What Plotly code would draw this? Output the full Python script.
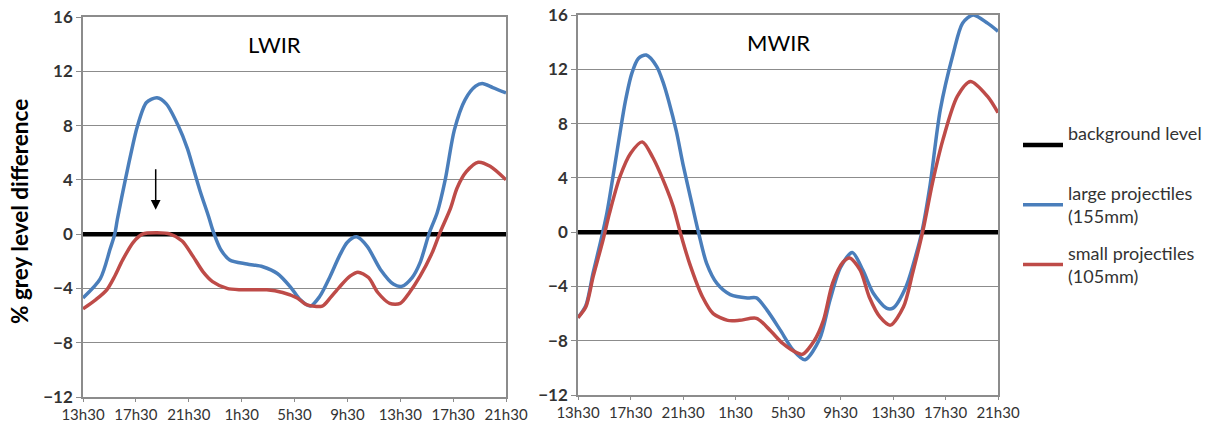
import plotly.graph_objects as go

# ---- data (hours after 13h30) ----
tick_hours = [0, 4, 8, 12, 16, 20, 24, 28, 32]
tick_labels = ["13h30", "17h30", "21h30", "1h30", "5h30", "9h30", "13h30", "17h30", "21h30"]

bg_t = [0, 32]
bg_v = [0, 0]

lwir_large_t = [0, 1.3, 2.05, 2.4, 2.6, 3.2, 3.8, 4.1, 4.8, 5.6, 6.3, 7.2, 7.9, 8.3, 8.85, 9.5, 9.85,
                10.4, 11.1, 12.4, 13.6, 14.7, 15.7, 16.4, 17.2, 17.9, 18.7, 19.4, 20.0, 20.7, 21.5,
                22.5, 23.5, 24.1, 24.9, 25.5, 26.2, 26.8, 27.4, 28.1, 28.9, 29.7, 30.2, 31.0, 32.0]
lwir_large_v = [-4.7, -3.3, -1.1, 0.0, 1.1, 4.0, 6.7, 7.9, 9.7, 10.05, 9.6, 8.0, 6.3, 5.0, 3.2, 1.3, 0.2,
                -1.1, -1.9, -2.2, -2.4, -2.9, -3.9, -4.8, -5.3, -4.6, -3.1, -1.6, -0.6, -0.2, -0.9,
                -2.6, -3.7, -3.85, -3.2, -2.1, 0.1, 1.6, 4.0, 7.7, 9.9, 10.9, 11.1, 10.8, 10.4]

lwir_small_t = [0, 1.0, 1.8, 2.4, 3.0, 3.8, 4.5, 5.6, 6.6, 7.5, 8.3, 9.1, 9.8, 10.9, 11.9, 13.9,
                15.1, 16.2, 16.9, 18.1, 18.7, 19.4, 20.2, 20.8, 21.6, 22.3, 23.2, 24.0, 24.7, 25.5,
                26.4, 27.0, 27.8, 28.3, 29.0, 29.9, 30.8, 32.0]
lwir_small_v = [-5.5, -4.8, -4.1, -3.1, -1.9, -0.6, 0.0, 0.1, 0.0, -0.5, -1.6, -2.8, -3.5, -4.0, -4.1, -4.1,
                -4.3, -4.7, -5.2, -5.3, -4.7, -3.9, -3.1, -2.8, -3.2, -4.3, -5.1, -5.1, -4.3, -3.1,
                -1.4, 0.1, 1.9, 3.4, 4.6, 5.3, 5.0, 4.0]

mwir_large_t = [0, 0.6, 1.15, 1.7, 2.2, 2.7, 3.2, 3.6, 4.1, 4.6, 5.2, 6.0, 6.5, 6.9, 7.5, 8.0, 8.7,
                9.2, 9.8, 10.6, 11.6, 12.9, 13.6, 14.4, 15.4, 16.4, 17.3, 18.4, 19.2, 20.0, 20.9,
                21.7, 22.5, 23.5, 24.0, 25.0, 25.8, 26.2, 26.8, 27.6, 28.6, 29.3, 30.1, 31.2, 32.0]
mwir_large_v = [-6.3, -5.4, -3.0, -0.8, 1.4, 4.3, 7.3, 9.6, 11.7, 12.8, 13.05, 12.2, 11.0, 9.7, 7.4, 5.0, 2.0,
                -0.1, -2.3, -3.8, -4.6, -4.85, -4.85, -5.75, -7.2, -8.7, -9.4, -7.9, -5.0, -2.6, -1.5,
                -2.8, -4.5, -5.6, -5.6, -4.0, -1.5, 0.0, 3.3, 9.0, 13.2, 15.4, 16.0, 15.4, 14.8]

mwir_small_t = [0, 0.6, 1.15, 1.9, 2.4, 3.2, 4.0, 4.9, 5.7, 6.8, 7.25, 7.8, 8.5, 9.5, 10.3, 11.4,
                12.3, 13.6, 14.6, 15.6, 16.7, 17.1, 18.0, 18.7, 19.4, 20.2, 20.7, 21.5, 22.2, 23.0,
                23.8, 24.8, 25.5, 26.3, 27.0, 27.8, 28.9, 29.9, 31.2, 32.0]
mwir_small_v = [-6.3, -5.5, -3.3, -0.6, 1.4, 4.1, 5.8, 6.65, 5.5, 3.1, 1.9, -0.05, -2.3, -4.8, -6.0, -6.5,
                -6.5, -6.35, -7.2, -8.2, -8.9, -9.0, -8.0, -6.5, -3.75, -2.2, -1.9, -2.8, -4.8, -6.25,
                -6.85, -5.5, -3.0, 0.2, 3.6, 6.8, 10.0, 11.1, 10.0, 8.8]

BLUE = "#4A7EBB"
RED = "#BE4B48"
FONT = "Lato"
GRID = "#8C8C8C"

fig = go.Figure()

def add_panel(xa, ya, large_t, large_v, small_t, small_v, show):
    fig.add_trace(go.Scatter(x=bg_t, y=bg_v, mode="lines", line=dict(color="black", width=4.5),
                             name="background level<br> ", legendgroup="bg", showlegend=show,
                             xaxis=xa, yaxis=ya))
    fig.add_trace(go.Scatter(x=large_t, y=large_v, mode="lines",
                             line=dict(color=BLUE, width=3.5, shape="spline", smoothing=0.8),
                             name="large projectiles<br>(155mm)", legendgroup="large", showlegend=show,
                             xaxis=xa, yaxis=ya))
    fig.add_trace(go.Scatter(x=small_t, y=small_v, mode="lines",
                             line=dict(color=RED, width=3.5, shape="spline", smoothing=0.8),
                             name="small projectiles<br>(105mm)", legendgroup="small", showlegend=show,
                             xaxis=xa, yaxis=ya))

add_panel("x", "y", lwir_large_t, lwir_large_v, lwir_small_t, lwir_small_v, True)
add_panel("x2", "y2", mwir_large_t, mwir_large_v, mwir_small_t, mwir_small_v, False)

xcommon = dict(range=[0, 32], tickvals=tick_hours, ticktext=tick_labels, ticks="outside", ticklen=3,
               tickcolor=GRID, showgrid=False, showline=True, linecolor=GRID, linewidth=1.5, mirror=True,
               zeroline=False, automargin=False,
               tickfont=dict(family=FONT, size=15, color="#333333"))
ycommon = dict(range=[-12, 16], dtick=4, tick0=-12, ticks="outside", ticklen=5, tickcolor=GRID,
               showgrid=True, gridcolor=GRID, gridwidth=1, showline=True, linecolor=GRID, linewidth=1.5,
               mirror=True, zeroline=False, automargin=False,
               tickfont=dict(family=FONT, size=17, color="#333333", weight="bold"))

fig.update_layout(
    width=1211, height=423,
    margin=dict(l=0, r=0, t=0, b=0, autoexpand=False),
    paper_bgcolor="white", plot_bgcolor="white",
    xaxis=dict(domain=[83 / 1211, 506 / 1211], anchor="y", **xcommon),
    yaxis=dict(domain=[1 - 397 / 423, 1 - 17 / 423], anchor="x", **ycommon),
    xaxis2=dict(domain=[578 / 1211, 998 / 1211], anchor="y2", **xcommon),
    yaxis2=dict(domain=[1 - 395 / 423, 1 - 15 / 423], anchor="x2", **ycommon),
    legend=dict(x=1018 / 1211, y=1 - 115 / 423, xanchor="left", yanchor="top",
                font=dict(family=FONT, size=18, color="#333333"), tracegroupgap=10,
                bgcolor="rgba(0,0,0,0)", itemwidth=40),
    showlegend=True,
)

fig.add_annotation(text="LWIR", xref="x", yref="y", x=14.5, y=14.0, showarrow=False,
                   font=dict(family=FONT, size=22, color="black"))
fig.add_annotation(text="MWIR", xref="x2", yref="y2", x=15.3, y=14.0, showarrow=False,
                   font=dict(family=FONT, size=22, color="black"))
fig.add_annotation(text="% grey level difference", xref="paper", yref="paper", x=20 / 1211, y=1 - 212 / 423,
                   xanchor="center", yanchor="middle",
                   textangle=-90, showarrow=False,
                   font=dict(family=FONT, size=22.5, color="black", weight="bold"))
fig.add_annotation(x=5.5, y=1.8, xref="x", yref="y", ax=5.5, ay=4.9, axref="x", ayref="y",
                   showarrow=True, arrowhead=2, arrowsize=1.3, arrowwidth=1.5, arrowcolor="black", text="")

fig.write_html("out.html", config={"displayModeBar": False},
               post_script="document.body.style.margin='0';")
